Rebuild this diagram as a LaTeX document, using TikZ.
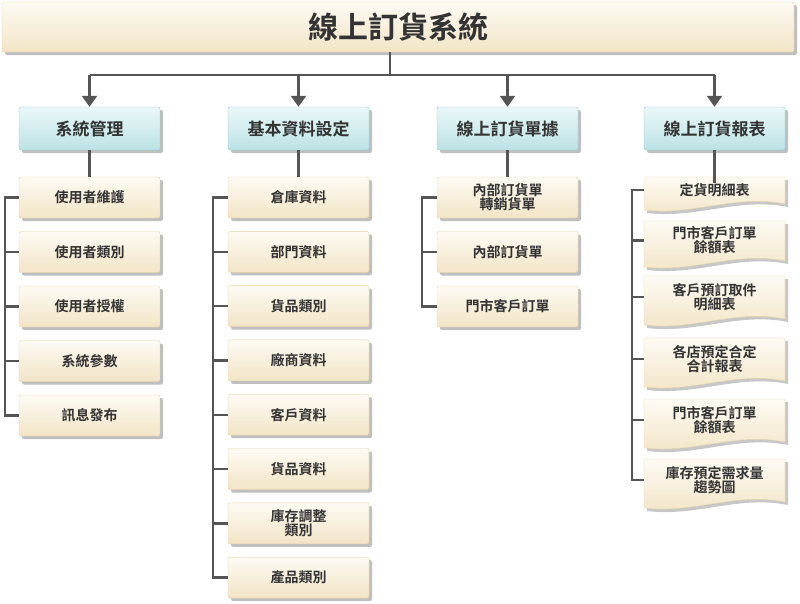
\documentclass[tikz,border=0pt]{standalone}
\usepackage{fontspec}
\setmainfont{Noto Sans CJK TC}[BoldFont={* Bold}]
\usetikzlibrary{shadows,arrows.meta}
\definecolor{ln}{HTML}{555555}
\definecolor{crA}{HTML}{FEFBF4}
\definecolor{crB}{HTML}{F2E4C6}
\definecolor{crD}{HTML}{E6D2A6}
\definecolor{tA}{HTML}{EAF7F8}
\definecolor{tB}{HTML}{BCE2E5}
\definecolor{tD}{HTML}{88CDD4}
\tikzset{
 cream/.style={draw=crD,top color=crA,bottom color=crB,rounded corners=2pt,
   drop shadow={shadow xshift=3pt,shadow yshift=-3pt,fill=black,opacity=.25}},
 titlebox/.style={cream,minimum width=792pt,minimum height=50pt,font=\fontsize{30}{32}\selectfont\bfseries,text=black!80},
 head/.style={draw=tD,top color=tA,bottom color=tB,rounded corners=2pt,minimum width=141pt,minimum height=43pt,
   font=\fontsize{17}{19}\selectfont\bfseries,text=black!80,
   drop shadow={shadow xshift=3pt,shadow yshift=-3pt,fill=black,opacity=.25}},
 item/.style={cream,minimum width=141pt,minimum height=41pt,font=\fontsize{14}{14}\selectfont\bfseries,text=black!80,align=center},
 docfill/.style={draw=crD,top color=crA,bottom color=crB},
 doctext/.style={minimum width=141pt,font=\fontsize{14}{14}\selectfont\bfseries,text=black!80,align=center,inner sep=0pt},
 conn/.style={draw=ln,line width=2.4pt},
 arr/.style={conn,-{Triangle[length=11pt,width=15pt]}}
}
\newcommand{\docshape}[5]{% name, x1, y1, y2, text
 \begin{scope}[shift={(3,3)}]
 \fill[black,opacity=.22] (#2,#3) -- ({#2+141},#3) -- ({#2+141},{#4-6}) .. controls ({#2+91},{#4-16}) and ({#2+50},{#4+6}) .. (#2,#4) -- cycle;
 \end{scope}
 \path[docfill] (#2,#3) -- ({#2+141},#3) -- ({#2+141},{#4-6}) .. controls ({#2+91},{#4-16}) and ({#2+50},{#4+6}) .. (#2,#4) -- cycle;
 \node[doctext] (#1) at ({#2+70.5},{(#3+#4-7)/2}) {#5};
}
\begin{document}
\begin{tikzpicture}[x=1pt,y=-1pt]
\useasboundingbox (0,0) rectangle (800,603);
\node[titlebox] (T) at (398,27) {線上訂貨系統};
\node[head] (H1) at (89.5,128.5) {系統管理};
\node[head] (H2) at (298.5,128.5) {基本資料設定};
\node[head] (H3) at (507.5,128.5) {線上訂貨單據};
\node[head] (H4) at (714.5,128.5) {線上訂貨報表};
\coordinate (J) at (390,75);
\coordinate (L1) at (5,0);
\coordinate (L2) at (213,0);
\coordinate (L3) at (422,0);
\coordinate (L4) at (632,0);
\draw[conn] (T.south -| J) -- (J);
\draw[conn] (H1.north |- J) -- (H4.north |- J);
\foreach \h in {H1,H2,H3,H4}{ \draw[arr] (\h.north |- J) -- (\h.north); }
% column 1
\foreach \n/\t [count=\i from 0] in {A1/使用者維護,A2/使用者類別,A3/使用者授權,A4/系統參數,A5/訊息發布}{
 \node[item] (\n) at (89.5,{197.5+54.5*\i}) {\t};}
% column 2
\foreach \n/\t [count=\i from 0] in {B1/倉庫資料,B2/部門資料,B3/貨品類別,B4/廠商資料,B5/客戶資料,B6/貨品資料,B7/{庫存調整\\類別},B8/產品類別}{
 \node[item] (\n) at (298.5,{197.5+54.3*\i}) {\t};}
% column 3
\foreach \n/\t [count=\i from 0] in {C1/{內部訂貨單\\轉銷貨單},C2/內部訂貨單,C3/門市客戶訂單}{
 \node[item] (\n) at (507.5,{197.5+54.5*\i}) {\t};}
% column 4
\docshape{D1}{644}{177}{210}{定貨明細表}
\docshape{D2}{644}{221}{267}{門市客戶訂單\\餘額表}
\docshape{D3}{644}{276}{325}{客戶預訂取件\\明細表}
\docshape{D4}{644}{338}{387}{各店預定合定\\合計報表}
\docshape{D5}{644}{399}{448}{門市客戶訂單\\餘額表}
\docshape{D6}{644}{459}{508}{庫存預定需求量\\趨勢圖}
% connectors
\draw[conn] (H1.south) -- (A1.north);
\draw[conn] (H2.south) -- (B1.north);
\draw[conn] (H3.south) -- (C1.north);
\draw[conn] (H4.south) -- (D1.north);
\draw[conn] (A1.west) -| (A5.west -| L1) -- (A5.west);
\foreach \n in {A2,A3,A4}{\draw[conn] (\n.west) -- (\n.west -| L1);}
\draw[conn] (B1.west) -| (B8.west -| L2) -- (B8.west);
\foreach \n in {B2,B3,B4,B5,B6,B7}{\draw[conn] (\n.west) -- (\n.west -| L2);}
\draw[conn] (C1.west) -| (C3.west -| L3) -- (C3.west);
\draw[conn] (C2.west) -- (C2.west -| L3);
\draw[conn] (D1.west) -| (D6.west -| L4) -- (D6.west);
\foreach \n in {D2,D3,D4,D5}{\draw[conn] (\n.west) -- (\n.west -| L4);}
\end{tikzpicture}
\end{document}
